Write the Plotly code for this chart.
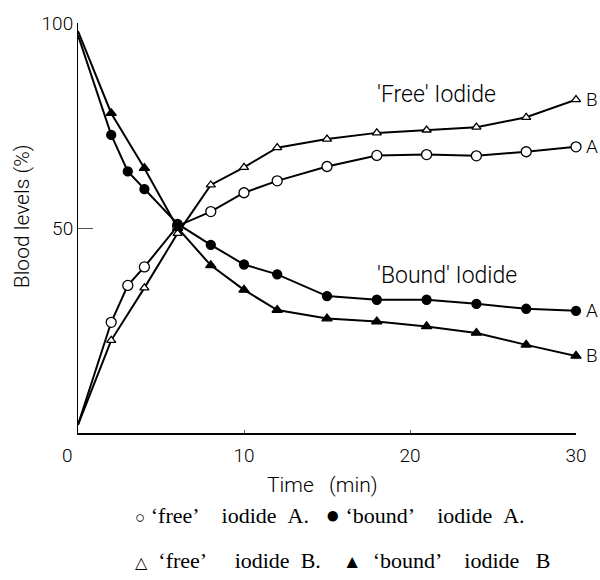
import plotly.graph_objects as go

# ---- data ----
time_A = [0, 2, 3, 4, 6, 8, 10, 12, 15, 18, 21, 24, 27, 30]
time_B = [0, 2, 4, 6, 8, 10, 12, 15, 18, 21, 24, 27, 30]
free_A = [2, 27, 36, 40.5, 50.5, 54, 58.6, 61.5, 65, 67.7, 67.9, 67.6, 68.6, 69.8]
bound_A = [97, 72.7, 63.8, 59.5, 51, 45.9, 41.1, 38.7, 33.4, 32.5, 32.5, 31.5, 30.3, 29.8]
free_B = [2, 22.6, 35.4, 48.7, 60.5, 64.8, 69.6, 71.7, 73.2, 73.9, 74.6, 77.0, 81.3]
bound_B = [98, 78, 64.6, 50, 40.9, 34.9, 30, 27.9, 27.2, 26, 24.4, 21.5, 18.8]

x_ticks = [10, 20, 30]
x_tick_text = ["10", "20", "30"]
y_ticks = [50, 100]
y_tick_text = ["50", "100"]

SANS = "Roboto, DejaVu Sans, sans-serif"
SERIF = "Liberation Serif, DejaVu Serif, serif"
LIGHT = 300

def sfont(size):
    return dict(family=SANS, size=size, color="black", weight=LIGHT)

fig = go.Figure()

series = [
    (time_A, free_A, "circle", "white", 10),
    (time_A, bound_A, "circle", "black", 9),
    (time_B, free_B, "triangle-up", "white", 8),
    (time_B, bound_B, "triangle-up", "black", 9),
]

for xs, ys, sym, fill, sz in series:
    fig.add_trace(go.Scatter(x=xs, y=ys, mode="lines",
                             line=dict(color="black", width=2),
                             hoverinfo="skip", showlegend=False))
for xs, ys, sym, fill, sz in series:
    fig.add_trace(go.Scatter(x=xs[1:], y=ys[1:], mode="markers",
                             marker=dict(symbol=sym, size=sz, color=fill,
                                         line=dict(color="black", width=1.3)),
                             showlegend=False, cliponaxis=False))

W, H = 600, 580
L, R, T, B = 78, 24, 15, 147
pw, ph = W - L - R, H - T - B

fig.update_layout(
    width=W, height=H,
    margin=dict(l=L, r=R, t=T, b=B),
    plot_bgcolor="white", paper_bgcolor="white",
    showlegend=False,
    xaxis=dict(range=[0, 30], showgrid=False, zeroline=False,
               showline=True, linecolor="black", linewidth=1.5,
               tickvals=x_ticks, ticktext=x_tick_text,
               ticks="inside", ticklen=3, tickcolor="#555",
               ticklabelstandoff=4,
               tickfont=sfont(19)),
    yaxis=dict(range=[0, 100], showgrid=False, zeroline=False,
               showline=True, linecolor="black", linewidth=1,
               tickvals=y_ticks, ticktext=y_tick_text,
               ticks="inside", ticklen=15, tickcolor="#555", tickwidth=1,
               tickfont=sfont(19)),
)

def ann(text, x, y, xref="x", yref="y", font=None, **kw):
    d = dict(text=text, x=x, y=y, xref=xref, yref=yref, showarrow=False,
             xanchor="center", yanchor="middle",
             font=font or sfont(21))
    d.update(kw)
    fig.add_annotation(**d)

def px_to_paper(px, py):
    return (px - L) / pw, (H - B - py) / ph

NB = "\u00a0"

# corner zero label
ann("0", 0, 0, xshift=-11, yshift=-22, font=sfont(19))
# series group labels
ann("'Free' Iodide", 21.6, 82.5, font=sfont(23))
ann("'Bound' Iodide", 22.2, 38.5, font=sfont(23))
# end labels
for lab, yv in [("B", free_B[-1]), ("A", free_A[-1]), ("A", bound_A[-1]), ("B", bound_B[-1])]:
    ann(lab, 30, yv, xanchor="left", xshift=8, font=sfont(19))
# axis titles
xp, yp = px_to_paper(322, 486)
ann("Time" + NB * 3 + "(min)", xp, yp, xref="paper", yref="paper", font=sfont(21))
xp, yp = px_to_paper(22, 212)
ann("Blood levels (%)", xp, yp, xref="paper", yref="paper", textangle=-90)

# caption
def sym(ch, size):
    return "<span style='font-size:%dpx'>%s</span>" % (size, ch)

line1 = (sym("○", 17) + NB + "‘free’" + NB * 4 + "iodide" + NB * 2 + "A." + NB * 3
         + sym("●", 24) + NB + "‘bound’" + NB * 4 + "iodide" + NB * 2 + "A.")
line2 = (sym("△", 16) + NB * 2 + "‘free’" + NB * 5 + "iodide" + NB * 2 + "B." + NB * 4
         + sym("▲", 19) + NB * 2 + "‘bound’" + NB * 4 + "iodide" + NB * 3 + "B")
for text, px, py in [(line1, 133, 517), (line2, 133, 563)]:
    xp, yp = px_to_paper(px, py)
    ann(text, xp, yp, xref="paper", yref="paper", xanchor="left",
        font=dict(family=SERIF, size=22, color="black"))

fig.write_html("out.html")
